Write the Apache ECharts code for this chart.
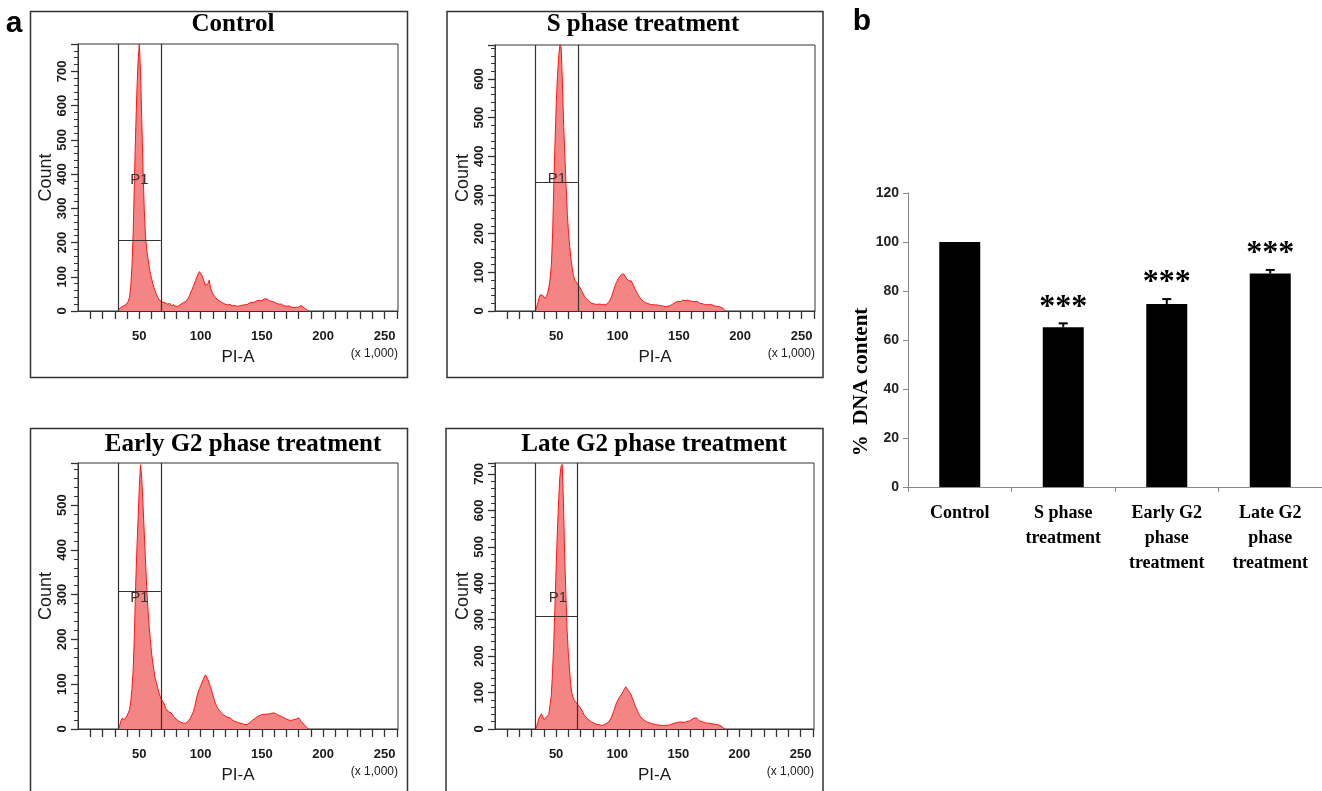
<!DOCTYPE html>
<html>
<head>
<meta charset="utf-8">
<script src="https://cdn.jsdelivr.net/npm/echarts@6/dist/echarts.min.js"></script>
<style>
html,body{margin:0;padding:0;background:#fff;}
#chart{width:1322px;height:791px;}
</style>
</head>
<body>
<div id="chart"></div>
<script>
// ---------- DATA ----------
// Histogram bins: PI-A (x 1,000), first bin centre and step
const binStart = 33;
const binStep = 1;

const panelTitles = ['Control', 'S phase treatment', 'Early G2 phase treatment', 'Late G2 phase treatment'];

// Counts per bin (PI-A = 33 ... 188)
const controlCounts = [
  5,8,10,12,15,14,18,20,28,40,
  70,130,230,380,520,640,730,780,700,560,
  420,300,220,180,155,130,110,95,80,68,
  58,48,40,35,30,28,26,30,24,22,
  20,18,22,16,15,18,14,13,16,15,
  18,20,22,25,24,28,32,38,45,55,
  62,72,80,90,100,108,115,112,105,95,
  85,75,72,80,90,70,58,50,45,40,
  35,32,30,28,25,24,22,20,22,18,
  17,19,16,15,14,16,15,14,16,15,
  14,17,15,18,20,19,22,24,22,25,
  27,26,28,30,28,31,33,30,34,36,
  32,35,33,30,32,28,30,26,25,22,
  24,20,18,20,17,15,16,14,12,15,
  13,11,12,10,9,11,10,12,14,16,
  12,10,8,5,3,0
];
const sPhaseCounts = [
  2,10,22,35,42,45,40,35,32,38,
  48,62,85,120,200,330,440,540,610,660,
  690,680,590,480,400,320,250,200,165,135,
  110,92,80,76,72,70,62,56,50,45,
  38,33,30,26,24,22,20,21,18,19,
  17,16,18,15,17,15,16,18,17,20,
  24,28,36,46,56,65,74,80,86,90,
  94,97,96,92,85,80,78,76,78,74,
  66,58,52,46,40,35,31,28,25,23,
  21,20,19,18,17,18,16,15,16,14,
  15,13,14,12,13,12,11,13,12,12,
  14,16,18,20,22,23,25,26,24,27,
  28,30,27,30,28,29,26,28,25,26,
  24,23,25,22,20,21,19,18,17,19,
  16,18,17,15,16,14,13,14,12,13,
  11,10,9,7,4,0
];
const earlyG2Counts = [
  0,8,18,24,28,21,24,30,36,43,
  60,90,132,210,318,400,467,540,590,560,
  504,440,380,318,270,230,200,170,148,130,
  112,103,92,82,73,66,64,58,50,44,
  42,38,40,36,32,28,25,22,20,18,
  16,15,14,13,14,13,15,18,22,26,
  30,38,48,60,73,82,90,96,103,110,
  116,121,118,110,102,95,86,76,66,58,
  52,46,42,39,36,33,30,29,27,26,
  25,25,22,20,19,17,16,15,14,13,
  12,12,11,10,11,10,12,14,17,19,
  21,23,25,27,28,30,29,32,31,33,
  34,33,35,34,32,35,33,36,34,33,
  34,30,31,28,27,25,24,22,21,20,
  22,19,20,21,19,22,23,25,21,17,
  14,11,8,5,2,0
];
const lateG2Counts = [
  0,6,18,30,34,42,44,26,28,32,
  36,40,45,90,150,230,330,440,540,620,
  690,720,726,620,480,370,270,208,160,120,
  97,86,78,74,70,66,62,60,52,45,
  38,33,30,28,24,22,19,18,16,15,
  13,14,12,11,10,12,11,13,15,17,
  19,24,30,38,48,58,68,76,82,88,
  93,97,104,110,116,112,106,101,97,88,
  80,70,61,54,46,40,34,30,27,24,
  22,20,18,17,16,15,14,13,13,12,
  11,12,10,11,10,9,10,11,10,10,
  11,12,14,15,16,17,18,17,19,18,
  19,20,18,19,21,20,22,24,26,28,
  30,33,30,26,22,20,21,19,18,17,
  16,15,16,14,15,14,13,14,13,12,
  11,10,8,6,3,0
];
const panelCounts = [controlCounts, sPhaseCounts, earlyG2Counts, lateG2Counts];
const panelCountMax = [780, 688, 594, 730];   // top of each Count axis
const gateLow = 33;                           // P1 gate, PI-A (x 1,000)
const gateHigh = 67.5;
const gateCount = [208, 332, 308, 309];        // horizontal P1 line, Count
const p1Label = [[50, 383], [50.5, 341], [50, 292], [51.5, 359]];

// Panel b
const barCategories = ['Control', 'S phase\ntreatment', 'Early G2\nphase\ntreatment', 'Late G2\nphase\ntreatment'];
const dnaContent = [100, 65.2, 74.7, 87.1];
const dnaError = [0, 1.6, 2.0, 1.5];
const significance = ['', '***', '***', '***'];

// ---------- LAYOUT ----------
const histGrids = [
  {left: 78, top: 44, width: 320, height: 267},
  {left: 495, top: 45, width: 320, height: 266},
  {left: 78, top: 463, width: 320, height: 266},
  {left: 495, top: 463, width: 319, height: 266}
];
const boxes = [
  {x: 30.5, y: 11.5, w: 377, h: 366},
  {x: 447, y: 11.5, w: 376, h: 366},
  {x: 30.5, y: 428.5, w: 377, h: 400},
  {x: 446, y: 428.5, w: 377, h: 400}
];
const titlePos = [[233, 25], [643, 25], [243, 445], [654, 445]];

const grids = [], xAxes = [], yAxes = [], series = [], graphics = [];

panelCounts.forEach((counts, i) => {
  const g = histGrids[i];
  grids.push({left: g.left, top: g.top, width: g.width, height: g.height,
    show: true, borderColor: '#333', borderWidth: 1, backgroundColor: 'transparent'});
  xAxes.push({
    gridIndex: i, type: 'value', min: 0, max: 261, interval: 10,
    axisLine: {show: true, onZero: false, lineStyle: {color: '#333', width: 1}},
    axisTick: {show: true, length: 8, lineStyle: {color: '#333', width: 1.3}},
    axisLabel: {fontFamily: 'Arial', fontWeight: 'bold', fontSize: 13, color: '#1a1a1a', margin: 19,
      showMaxLabel: false, showMinLabel: false,
      formatter: v => (v > 0 && v % 50 === 0) ? String(v) : ''},
    splitLine: {show: false},
    name: 'PI-A', nameLocation: 'middle', nameGap: 38,
    nameTextStyle: {fontFamily: 'Arial', fontSize: 17, color: '#1a1a1a'}
  });
  yAxes.push({
    gridIndex: i, type: 'value', min: 0, max: panelCountMax[i], interval: 100,
    axisLine: {show: true, lineStyle: {color: '#333', width: 1}},
    axisTick: {show: true, length: 7, lineStyle: {color: '#333', width: 1.3}},
    minorTick: {show: true, splitNumber: 5, length: 4, lineStyle: {color: '#333', width: 1}},
    axisLabel: {rotate: 90, margin: 9, fontFamily: 'Arial', fontWeight: 'bold', fontSize: 13, color: '#1a1a1a',
      showMaxLabel: false,
      formatter: v => (v % 100 === 0) ? String(v) : ''},
    splitLine: {show: false},
    name: 'Count', nameLocation: 'middle', nameGap: 21,
    nameTextStyle: {fontFamily: 'Arial', fontSize: 18, color: '#1a1a1a'}
  });
  series.push({
    type: 'line', xAxisIndex: i, yAxisIndex: i,
    data: counts.map((c, k) => [binStart + k * binStep, c]),
    showSymbol: false, symbol: 'none', smooth: false,
    lineStyle: {color: '#ff1414', width: 1},
    areaStyle: {color: '#f48585', opacity: 1},
    silent: true,
    markLine: {
      silent: true, symbol: 'none', animation: false,
      lineStyle: {color: '#333', width: 1.2, type: 'solid'},
      label: {show: false},
      data: [
        {xAxis: gateLow}, {xAxis: gateHigh},
        [{coord: [gateLow, gateCount[i]]}, {coord: [gateHigh, gateCount[i]]}]
      ]
    },
    markPoint: {
      silent: true, animation: false,
      symbol: 'circle', symbolSize: 1,
      itemStyle: {color: 'rgba(0,0,0,0)'},
      label: {show: true, position: 'inside', formatter: 'P1', fontFamily: 'Arial', fontSize: 15, color: '#333'},
      data: [{coord: p1Label[i]}]
    }
  });
  const b = boxes[i];
  graphics.push({type: 'rect', shape: {x: b.x, y: b.y, width: b.w, height: b.h},
    style: {fill: 'none', stroke: '#333', lineWidth: 1.5}, silent: true});
  graphics.push({type: 'text', x: titlePos[i][0], y: titlePos[i][1],
    style: {text: panelTitles[i], font: 'bold 25px "Liberation Serif", "Times New Roman", serif',
      fill: '#000', textAlign: 'center', textVerticalAlign: 'middle'}});
  graphics.push({type: 'text', x: g.left + g.width, y: g.top + g.height + 43,
    style: {text: '(x 1,000)', font: '12px Arial, "Liberation Sans", sans-serif',
      fill: '#1a1a1a', textAlign: 'right', textVerticalAlign: 'middle'}});
});

// Panel b grid
grids.push({left: 908, top: 193, width: 414, height: 294});
xAxes.push({
  gridIndex: 4, type: 'category', data: barCategories,
  axisLine: {show: true, lineStyle: {color: '#888', width: 1}},
  axisTick: {show: true, length: 5, lineStyle: {color: '#888'}},
  axisLabel: {interval: 0, fontFamily: '"Liberation Serif", "Times New Roman", serif', fontWeight: 'bold',
    fontSize: 18, lineHeight: 25, color: '#000', margin: 14}
});
yAxes.push({
  gridIndex: 4, type: 'value', min: 0, max: 120, interval: 20,
  axisLine: {show: true, lineStyle: {color: '#888', width: 1}},
  axisTick: {show: true, length: 5, lineStyle: {color: '#888'}},
  axisLabel: {fontFamily: 'Arial', fontWeight: 'bold', fontSize: 14, color: '#222', margin: 9},
  splitLine: {show: false}
});
series.push({
  type: 'bar', xAxisIndex: 4, yAxisIndex: 4, data: dnaContent, barWidth: 41,
  itemStyle: {color: '#000'}, silent: true
});
series.push({
  type: 'custom', xAxisIndex: 4, yAxisIndex: 4, silent: true, z: 5,
  data: dnaContent.map((v, k) => [k, v, dnaError[k]]),
  renderItem: function (params, api) {
    const k = api.value(0), v = api.value(1), e = api.value(2);
    const base = api.coord([k, v]);
    const top = api.coord([k, v + e]);
    const children = [];
    if (e > 0) {
      children.push({type: 'line', shape: {x1: base[0], y1: base[1], x2: top[0], y2: top[1]},
        style: {stroke: '#000', lineWidth: 2}});
      children.push({type: 'line', shape: {x1: top[0] - 4.5, y1: top[1], x2: top[0] + 4.5, y2: top[1]},
        style: {stroke: '#000', lineWidth: 2}});
    }
    const s = significance[params.dataIndex];
    if (s) {
      children.push({type: 'text', x: top[0], y: top[1] - 16,
        style: {text: s, font: 'bold 32px "Liberation Serif", "Times New Roman", serif', fill: '#000',
          textAlign: 'center', textVerticalAlign: 'middle'}});
    }
    return {type: 'group', children: children};
  }
});

// Y-axis title of panel b (placed as in the reference, slightly below the axis centre)
graphics.push({type: 'text', x: 862, y: 382, rotation: Math.PI / 2,
  style: {text: '%  DNA content', font: 'bold 21px "Liberation Serif", "Times New Roman", serif',
    fill: '#000', textAlign: 'center', textVerticalAlign: 'middle'}});

// Panel letters
graphics.push({type: 'text', x: 14, y: 24,
  style: {text: 'a', font: 'bold 30px Arial, "Liberation Sans", sans-serif', fill: '#000', textAlign: 'center', textVerticalAlign: 'middle'}});
graphics.push({type: 'text', x: 862, y: 22,
  style: {text: 'b', font: 'bold 30px Arial, "Liberation Sans", sans-serif', fill: '#000', textAlign: 'center', textVerticalAlign: 'middle'}});

const chart = echarts.init(document.getElementById('chart'), null, {renderer: 'canvas'});
chart.setOption({
  animation: false,
  backgroundColor: '#fff',
  grid: grids,
  xAxis: xAxes,
  yAxis: yAxes,
  series: series,
  graphic: graphics
});
</script>
</body>
</html>
